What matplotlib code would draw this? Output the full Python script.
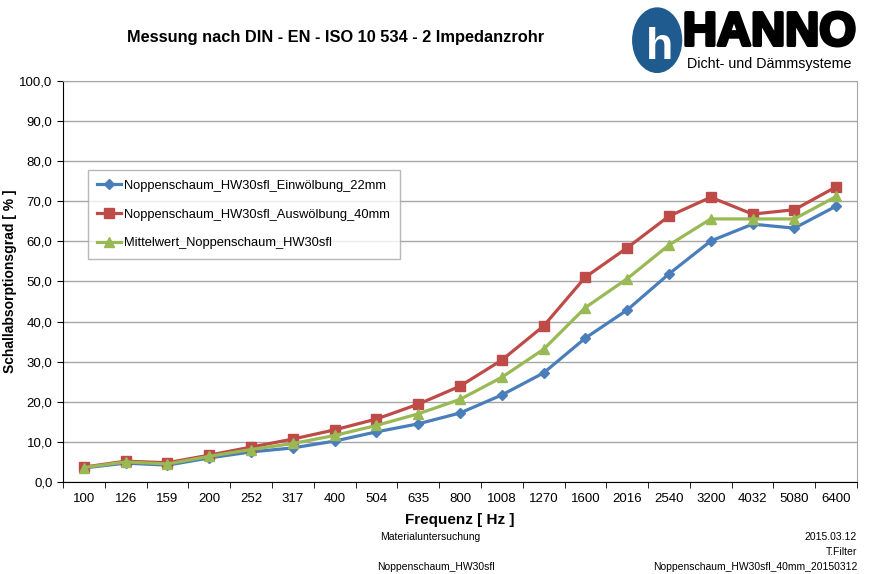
import matplotlib
matplotlib.use("Agg")
import matplotlib.pyplot as plt
import matplotlib.patheffects as pe
from matplotlib.patches import Ellipse

plt.rcParams["font.family"] = ["Liberation Sans", "DejaVu Sans"]

frequenzen = ["100", "126", "159", "200", "252", "317", "400", "504", "635", "800",
              "1008", "1270", "1600", "2016", "2540", "3200", "4032", "5080", "6400"]
einwoelbung = [3.5, 4.7, 4.2, 6.0, 7.5, 8.5, 10.2, 12.5, 14.5, 17.2,
               21.7, 27.2, 35.9, 42.9, 51.9, 60.1, 64.3, 63.3, 68.8]
auswoelbung = [3.7, 5.2, 4.8, 6.7, 8.7, 10.7, 13.0, 15.7, 19.4, 23.9,
               30.4, 38.9, 51.1, 58.4, 66.3, 71.0, 66.8, 67.9, 73.6]
mittelwert = [3.6, 5.0, 4.5, 6.4, 8.1, 9.6, 11.6, 14.1, 17.0, 20.6,
              26.1, 33.1, 43.5, 50.7, 59.1, 65.6, 65.6, 65.6, 71.2]
namen = ["Noppenschaum_HW30sfl_Einwölbung_22mm",
         "Noppenschaum_HW30sfl_Auswölbung_40mm",
         "Mittelwert_Noppenschaum_HW30sfl"]

fig = plt.figure(figsize=(8.71, 5.74), dpi=100)
ax = fig.add_axes([0.0723, 0.1603, 0.9117, 0.6986])

x = list(range(len(frequenzen)))
ax.plot(x, einwoelbung, color="#4a7ebb", lw=2.3, marker="D", ms=5, label=namen[0])
ax.plot(x, auswoelbung, color="#be4b48", lw=2.3, marker="s", ms=6.5, label=namen[1])
ax.plot(x, mittelwert, color="#98b954", lw=2.3, marker="^", ms=7, label=namen[2])

ax.set_xlim(-0.5, len(frequenzen) - 0.5)
ax.set_ylim(0, 100)
ax.set_yticks(range(0, 101, 10))
ax.set_yticklabels([f"{v},0" for v in range(0, 101, 10)], fontsize=9.5)
ax.set_xticks(x)
ax.set_xticklabels(frequenzen, fontsize=9.5)
ax.tick_params(axis="x", length=0, pad=8)
ax.set_xticks([i - 0.5 for i in range(len(frequenzen) + 1)], minor=True)
ax.tick_params(axis="x", which="minor", length=4, direction="out")
ax.tick_params(axis="y", length=4, direction="out")
ax.grid(axis="y", color="#a6a6a6", lw=1)
ax.set_axisbelow(True)
for s in ["top", "right"]:
    ax.spines[s].set_color("#a6a6a6")
for s in ["left", "bottom"]:
    ax.spines[s].set_color("black")

ax.set_xlabel("Frequenz [ Hz ]", fontsize=11, fontweight="bold", labelpad=6)
ax.set_ylabel("Schallabsorptionsgrad [ % ]", fontsize=10, fontweight="bold")
ax.yaxis.set_label_coords(-0.058, 0.5)

leg = ax.legend(loc="upper left", bbox_to_anchor=(0.031, 0.778), borderaxespad=0,
                fontsize=9.3, frameon=True, fancybox=False, handlelength=1.8,
                handletextpad=0.3, labelspacing=1.3, borderpad=0.75)
leg.get_frame().set_edgecolor("#a6a6a6")
leg.get_frame().set_linewidth(1)

fig.text(0.385, 0.935, "Messung nach DIN - EN - ISO 10 534 - 2 Impedanzrohr",
         ha="center", va="center", fontsize=11.8, fontweight="bold")

# Logo
fig.patches.append(Ellipse((0.7545, 0.930), 0.056, 0.112, transform=fig.transFigure,
                           color="#1f5b8e", zorder=2))
fig.text(0.757, 0.918, "h", ha="center", va="center", fontsize=32,
         fontweight="bold", color="white", zorder=3)
fig.text(0.784, 0.942, "HANNO", ha="left", va="center", fontsize=34,
         fontweight="bold", color="black",
         path_effects=[pe.Stroke(linewidth=2.5, foreground="black"), pe.Normal()])
fig.text(0.789, 0.888, "Dicht- und Dämmsysteme", ha="left", va="center",
         fontsize=10.3, color="black")

fig.text(0.494, 0.065, "Materialuntersuchung", ha="center", va="center", fontsize=7.5)
fig.text(0.5, 0.012, "Noppenschaum_HW30sfl", ha="center", va="center", fontsize=7.5)
fig.text(0.984, 0.065, "2015.03.12", ha="right", va="center", fontsize=7.5)
fig.text(0.984, 0.039, "T.Filter", ha="right", va="center", fontsize=7.5)
fig.text(0.984, 0.012, "Noppenschaum_HW30sfl_40mm_20150312", ha="right",
         va="center", fontsize=7.5)

fig.savefig("out.png", dpi=100)
